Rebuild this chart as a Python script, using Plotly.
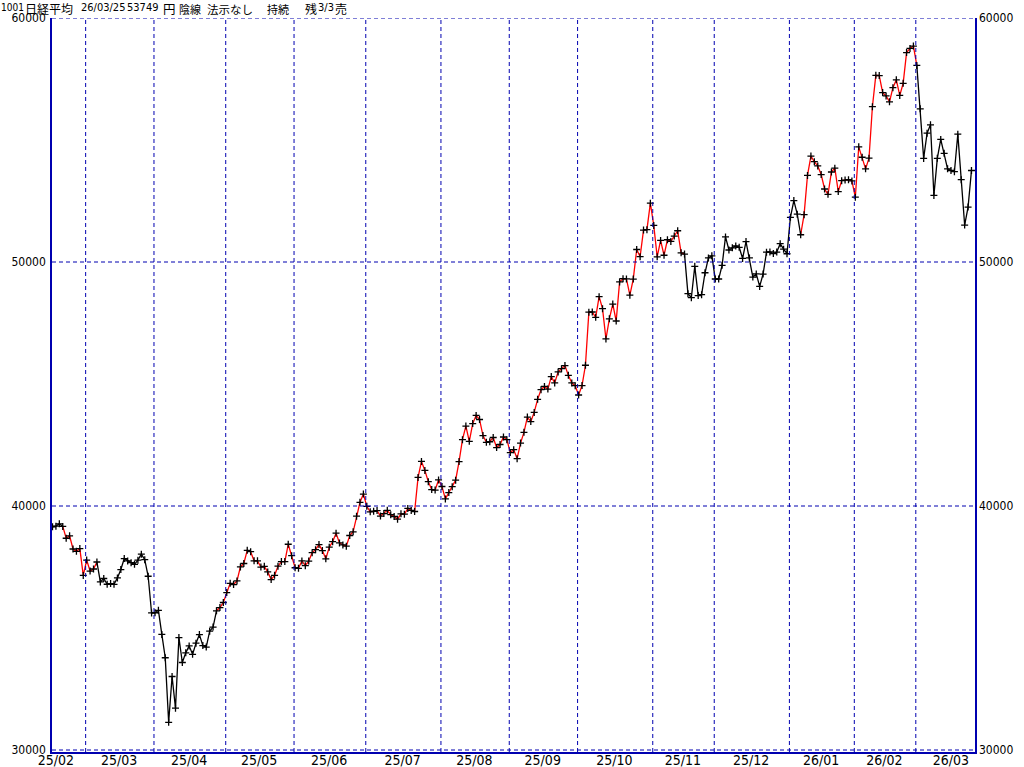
import plotly.graph_objects as go

# Nikkei 225 daily closes, 2025/02/14 .. 2026/03/25 (one list per month)
feb25 = [39149, 39174, 39270, 39164, 38678, 38776, 38237, 38142, 38256, 37155]
mar25 = [37785, 37331, 37418, 37704, 36887, 37028, 36793, 36819, 36790, 37053,
         37396, 37845, 37751, 37677, 37608, 37780, 38027, 37799, 37120, 35617]
apr25 = [35624, 35725, 34736, 33780, 31136, 33012, 31714, 34609, 33586, 33982,
         34267, 33920, 34377, 34730, 34280, 34220, 34868, 35039, 35705, 35839, 36045]
may25 = [36452, 36830, 36780, 36928, 37503, 37644, 38183, 38128, 37755, 37753,
         37498, 37529, 37299, 36985, 37160, 37532, 37724, 37722, 38432, 37965]
jun25 = [37470, 37446, 37747, 37554, 37741, 38089, 38211, 38421, 38173, 37834,
         38311, 38536, 38885, 38488, 38403, 38354, 38790, 38942, 39584, 40150, 40487]
jul25 = [39986, 39762, 39785, 39811, 39587, 39688, 39821, 39646, 39570, 39459,
         39678, 39663, 39901, 39819, 39774, 41171, 41826, 41456, 40998, 40674, 40654, 41069]
aug25 = [40799, 40290, 40549, 40794, 41059, 41820, 42718, 43274, 42649, 43378,
         43714, 43546, 42888, 42610, 42633, 42807, 42394, 42520, 42828, 42718]
sep25 = [42188, 42310, 41938, 42580, 43018, 43643, 43459, 43837, 44372, 44768,
         44902, 44790, 45303, 45045, 45493, 45630, 45754, 45354, 45043, 44932]
oct25 = [44550, 44936, 45769, 47944, 47950, 47734, 48580, 48088, 46847, 47672,
         48277, 47582, 49185, 49316, 49307, 48641, 49299, 50512, 50219, 51307, 51325, 52411]
nov25 = [51497, 50212, 50883, 50276, 50911, 50842, 51063, 51281, 50376, 50323,
         48702, 48537, 49823, 48625, 48659, 49559, 50167, 50253]
dec25 = [49303, 49303, 49864, 51028, 50491, 50581, 50655, 50603, 50148, 50837,
         50168, 49383, 49512, 49001, 49507, 50402, 50413, 50344, 50407, 50750, 50526, 50339]
jan26 = [51832, 52518, 51961, 51117, 51940, 53549, 54341, 54110, 53936, 53583,
         52991, 52774, 53689, 53846, 52885, 53333, 53358, 53375, 53322]
feb26 = [52655, 54720, 54293, 53818, 54254, 56364, 57651, 57640, 56942, 56806,
         56566, 57144, 57468, 56826, 57321, 58583, 58753, 58850]
mar26 = [58057, 56279, 54246, 55278, 55621, 52729, 54248, 55025, 54452, 53820,
         53751, 53701, 55239, 53372, 51515, 52252, 53749]

months = [feb25, mar25, apr25, may25, jun25, jul25, aug25, sep25,
          oct25, nov25, dec25, jan26, feb26, mar26]
month_labels = ["25/02", "25/03", "25/04", "25/05", "25/06", "25/07", "25/08",
                "25/09", "25/10", "25/11", "25/12", "26/01", "26/02", "26/03"]

# segments drawn in red (start index inclusive, end exclusive)
red_spans = [(3, 13), (48, 185), (219, 253)]

y_ticks = [30000, 40000, 50000, 60000]

close = [v for m in months for v in m]
n = len(close)
x = list(range(n))

starts = []
s = 0
for m in months:
    starts.append(s)
    s += len(m)

NAVY = "#0000b0"
NARROW = "Liberation Sans Narrow, DejaVu Sans Condensed, sans-serif"
CJK = "Noto Sans CJK JP"


def is_red(i):
    return any(a <= i < b for a, b in red_spans)


fig = go.Figure()

# coloured line segments, grouped into runs of the same colour
run_start = 0
for i in range(1, n):
    if i == n - 1 or is_red(i) != is_red(run_start):
        col = "#ff0000" if is_red(run_start) else "#000000"
        fig.add_trace(go.Scatter(
            x=x[run_start:i + 1], y=close[run_start:i + 1],
            mode="lines", line=dict(color=col, width=1.3),
            hoverinfo="skip", showlegend=False))
        run_start = i

fig.add_trace(go.Scatter(
    x=x, y=close, mode="markers",
    marker=dict(symbol="cross-thin", size=5, line=dict(color="#000000", width=1.3)),
    showlegend=False))

# month boundary lines and price grid
shapes = []
for st in starts[1:]:
    shapes.append(dict(type="line", xref="x", yref="paper", x0=st - 0.3, x1=st - 0.3,
                       y0=0, y1=1, line=dict(color=NAVY, width=1, dash="4px,3px")))
for v in y_ticks:
    shapes.append(dict(type="line", xref="paper", yref="y", x0=0, x1=1, y0=v, y1=v,
                       line=dict(color=NAVY, width=1, dash="4px,3px")))

# month label positions (middle of each month)
tickvals = [starts[k] + (len(months[k]) - 1) / 2 for k in range(len(months))]
tickvals[0] = 1
tickvals[-1] = starts[-1] + 10

L, R, T, B = 52, 975, 18, 752
pw = R - L
ph = B - T


def px_x(p):
    return (p - L) / pw


# header: (text, left px, font, size, vertical centre px)
header = [
    ("1001", 0, NARROW, 10, 7),
    ("日経平均", 24, CJK, 12, 8.5),
    ("26/03/25", 80, NARROW, 11, 7),
    ("53749", 126, NARROW, 11, 7),
    ("円", 162, CJK, 12.5, 8.5),
    ("陰線", 178, CJK, 11, 8.5),
    ("法示なし", 206, CJK, 11.5, 8.5),
    ("持続", 266, CJK, 11, 8.5),
    ("残", 304, CJK, 12, 8.5),
    ("3/3", 317, NARROW, 11, 7),
    ("売", 334, CJK, 12, 8.5),
]
annotations = []
for txt, p, fam, sz, yc in header:
    annotations.append(dict(
        text=txt, xref="paper", yref="paper", x=px_x(p), y=1 + (T - yc) / ph,
        xanchor="left", yanchor="middle", showarrow=False, borderpad=0,
        font=dict(family=fam, size=sz, color="#000000")))

fig.update_layout(
    width=1024, height=767,
    margin=dict(l=L, r=1024 - R, t=T, b=767 - B),
    paper_bgcolor="#ffffff", plot_bgcolor="#ffffff",
    showlegend=False,
    shapes=shapes,
    annotations=annotations,
    xaxis=dict(
        range=[-0.15, 270.03], showgrid=False, zeroline=False, automargin=False,
        showline=True, linecolor=NAVY, linewidth=1.5,
        tickmode="array", tickvals=tickvals, ticktext=month_labels,
        ticks="", ticklabelstandoff=-6,
        tickfont=dict(family=NARROW, size=14, color="#000000"),
    ),
    yaxis=dict(
        range=[29918, 60000], showgrid=False, zeroline=False, automargin=False,
        showline=True, linecolor=NAVY, linewidth=1.5, mirror=True,
        tickmode="array", tickvals=y_ticks, ticktext=[str(v) for v in y_ticks],
        ticks="", ticklabelstandoff=2,
        tickfont=dict(family=NARROW, size=12, color="#000000"),
    ),
    yaxis2=dict(
        range=[29918, 60000], overlaying="y", side="right", showgrid=False,
        zeroline=False, showline=False, automargin=False,
        tickmode="array", tickvals=y_ticks, ticktext=[str(v) for v in y_ticks],
        ticks="", ticklabelstandoff=3,
        tickfont=dict(family=NARROW, size=12, color="#000000"),
    ),
)

# invisible trace to activate the right axis
fig.add_trace(go.Scatter(x=[0], y=[45000], yaxis="y2", mode="markers",
                         marker=dict(opacity=0), hoverinfo="skip", showlegend=False))

fig.write_html("out.html", config={"displayModeBar": False},
               post_script="document.body.style.margin='0';")
